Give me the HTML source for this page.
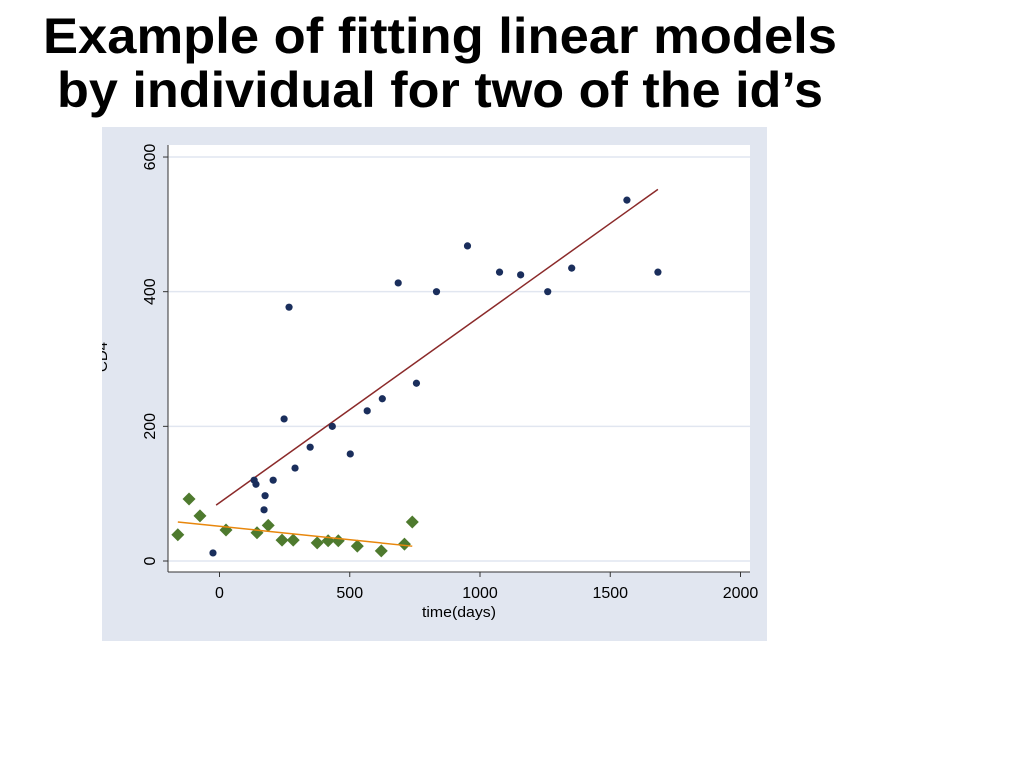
<!DOCTYPE html>
<html><head><meta charset="utf-8"><style>
html,body{margin:0;padding:0;background:#fff;width:1024px;height:768px;overflow:hidden}
svg{display:block}
</style></head><body>
<svg width="1024" height="768" font-family="'Liberation Sans', sans-serif">
<g>
<text x="43" y="53" font-size="50" font-weight="bold" textLength="794" lengthAdjust="spacingAndGlyphs">Example of fitting linear models</text>
<text x="57" y="107" font-size="50" font-weight="bold" textLength="766" lengthAdjust="spacingAndGlyphs">by individual for two of the id’s</text>
</g>
<rect x="102" y="127" width="665" height="514" fill="#e1e6f0"/>
<rect x="168" y="145" width="582" height="427" fill="#fff"/>
<g id="grid"></g>
<g id="axes"></g>
<g id="marks"></g>
<text x="0" y="0" font-size="15" transform="translate(107,357) rotate(-90)" text-anchor="middle">CD4</text>
<rect x="0" y="127" width="102" height="514" fill="#fff"/>
<text x="459" y="617" font-size="15" text-anchor="middle" textLength="74" lengthAdjust="spacingAndGlyphs">time(days)</text>
</svg>
<script>
const xTicks=[0,500,1000,1500,2000];
const yTicks=[0,200,400,600];
const blueX=[-25,133,140,175,171,206,248,267,290,348,433,502,567,625,686,756,833,952,1075,1156,1260,1352,1564,1683];
const blueY=[12,120,114,97,76,120,211,377,138,169,200,159,223,241,413,264,400,468,429,425,400,435,536,429];
const blueFitX=[-13,1683];
const blueFitY=[83,552];
const greenX=[-160,-117,-75,25,144,187,240,283,375,417,456,529,621,710,740];
const greenY=[39,92,67,46,42,53,31,31,27,30,30,22,15,25,58];
const greenFitX=[-160,740];
const greenFitY=[58,22];
const sx=v=>219.5+v*0.2605;
const sy=v=>561-v*0.6733;
const NS='http://www.w3.org/2000/svg';
function mk(tag,parent,attrs){const e=document.createElementNS(NS,tag);for(const k in attrs)e.setAttribute(k,attrs[k]);parent.appendChild(e);return e;}
const grid=document.getElementById('grid'),axes=document.getElementById('axes'),marks=document.getElementById('marks');
yTicks.forEach(t=>{
  const g=mk('line',grid,{x1:168,x2:750,y1:sy(t),y2:sy(t),stroke:'#e1e6f0','stroke-width':1.5});
  
  
  const tk=mk('line',axes,{x1:163,x2:168,y1:sy(t),y2:sy(t),stroke:'#333'});
  
  
  const lb=mk('text',axes,{transform:`translate(155,${sy(t)}) rotate(-90)`,'text-anchor':'middle','font-size':16});
  lb.textContent=t;
  
  
});
xTicks.forEach(t=>{
  const tk=mk('line',axes,{x1:sx(t),x2:sx(t),y1:572,y2:577,stroke:'#333'});
  
  
  const lb=mk('text',axes,{x:sx(t),y:598,'text-anchor':'middle','font-size':16});
  lb.textContent=t;
  
  
});
const ya=mk('line',axes,{x1:168,x2:168,y1:145,y2:572,stroke:'#333'});


const xa=mk('line',axes,{x1:168,x2:750,y1:572,y2:572,stroke:'#333'});


const bf=mk('line',marks,{x1:sx(blueFitX[0]),y1:sy(blueFitY[0]),x2:sx(blueFitX[1]),y2:sy(blueFitY[1]),stroke:'#8b2a2a','stroke-width':1.5});


greenX.forEach((x,i)=>{
  const cx=sx(x),cy=sy(greenY[i]),r=6.5;
  const d=mk('polygon',marks,{points:`${cx},${cy-r} ${cx+r},${cy} ${cx},${cy+r} ${cx-r},${cy}`,fill:'#4e7a2e'});
  
  
});
const gf=mk('line',marks,{x1:sx(greenFitX[0]),y1:sy(greenFitY[0]),x2:sx(greenFitX[1]),y2:sy(greenFitY[1]),stroke:'#e8870c','stroke-width':1.5});


blueX.forEach((x,i)=>{
  const c=mk('circle',marks,{cx:sx(x),cy:sy(blueY[i]),r:3.6,fill:'#1a2e5c'});
  
  
});
</script>
</body></html>
